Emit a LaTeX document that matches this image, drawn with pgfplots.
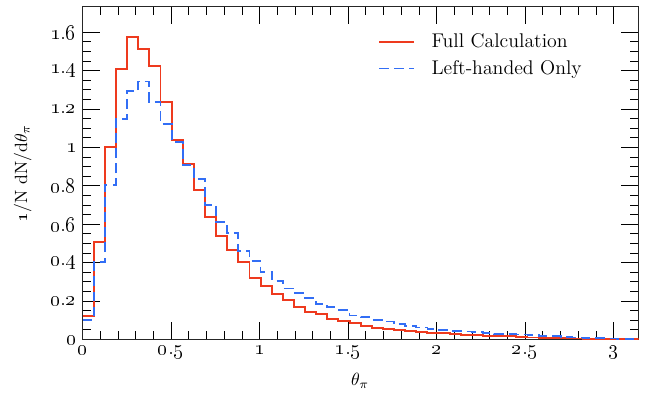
\documentclass[border=0pt]{standalone}
\usepackage{pgfplots}
\pgfplotsset{compat=1.18}
\definecolor{fullred}{RGB}{238,58,30}
\definecolor{lhblue}{RGB}{50,110,245}
\newcommand{\osn}[1]{\oldstylenums{#1}}
\pgfplotstableread{
x y
0.0000 0.120
0.0628 0.506
0.1257 1.000
0.1885 1.410
0.2513 1.574
0.3142 1.515
0.3770 1.424
0.4398 1.238
0.5027 1.039
0.5655 0.912
0.6283 0.779
0.6912 0.640
0.7540 0.537
0.8168 0.466
0.8796 0.405
0.9425 0.322
1.0053 0.279
1.0681 0.237
1.1310 0.206
1.1938 0.171
1.2566 0.145
1.3195 0.131
1.3823 0.105
1.4451 0.096
1.5080 0.084
1.5708 0.072
1.6336 0.062
1.6965 0.055
1.7593 0.049
1.8221 0.044
1.8850 0.039
1.9478 0.035
2.0106 0.032
2.0735 0.029
2.1363 0.024
2.1991 0.021
2.2619 0.019
2.3248 0.018
2.3876 0.016
2.4504 0.012
2.5133 0.010
2.5761 0.009
2.6389 0.007
2.7018 0.006
2.7646 0.005
2.8274 0.004
2.8903 0.003
2.9531 0.002
3.0159 0.002
3.0788 0.001
3.1416 0.001
}\fullcalc
\pgfplotstableread{
x y
0.0000 0.100
0.0628 0.402
0.1257 0.805
0.1885 1.147
0.2513 1.296
0.3142 1.343
0.3770 1.238
0.4398 1.122
0.5027 1.030
0.5655 0.907
0.6283 0.836
0.6912 0.702
0.7540 0.612
0.8168 0.556
0.8796 0.461
0.9425 0.410
1.0053 0.352
1.0681 0.305
1.1310 0.265
1.1938 0.240
1.2566 0.214
1.3195 0.185
1.3823 0.168
1.4451 0.155
1.5080 0.125
1.5708 0.115
1.6336 0.102
1.6965 0.093
1.7593 0.080
1.8221 0.072
1.8850 0.062
1.9478 0.056
2.0106 0.049
2.0735 0.044
2.1363 0.041
2.1991 0.040
2.2619 0.034
2.3248 0.028
2.3876 0.027
2.4504 0.026
2.5133 0.022
2.5761 0.018
2.6389 0.016
2.7018 0.012
2.7646 0.010
2.8274 0.008
2.8903 0.006
2.9531 0.005
3.0159 0.003
3.0788 0.002
3.1416 0.002
}\lefthanded
\begin{document}
\begin{tikzpicture}
\begin{axis}[
  scale only axis, width=314.2pt, height=188pt,
  xmin=0, xmax=3.14159, ymin=0, ymax=1.733,
  xtick={0,0.5,1,1.5,2,2.5,3},
  xticklabels={\osn{0},\osn{0}.\osn{5},\osn{1},\osn{1}.\osn{5},\osn{2},\osn{2}.\osn{5},\osn{3}},
  ytick={0,0.2,0.4,0.6,0.8,1,1.2,1.4,1.6},
  yticklabels={\osn{0},\osn{0}.\osn{2},\osn{0}.\osn{4},\osn{0}.\osn{6},\osn{0}.\osn{8},\osn{1},\osn{1}.\osn{2},\osn{1}.\osn{4},\osn{1}.\osn{6}},
  minor x tick num=4, minor y tick num=3,
  tick align=inside, major tick length=10pt, minor tick length=4.8pt,
  every tick/.style={black, line width=0.5pt},
  axis line style={black!85, line width=0.6pt},
  tick label style={font=\fontsize{11.5}{13.5}\selectfont},
  label style={font=\fontsize{11.5}{13.5}\selectfont},
  xlabel={$\theta_\pi$},
  ylabel={\osn{1}/N dN/d$\theta_\pi$},
  every axis x label/.style={at={(axis description cs:0.499,-0.1245)}, anchor=center},
  every axis y label/.style={at={(axis description cs:-0.108,0.5)}, rotate=90, anchor=center},
  legend style={at={(axis description cs:0.531,0.93)}, anchor=north west, draw=none, fill=none,
    font=\fontsize{11.2}{13.2}\selectfont, row sep=1.5pt, inner sep=0pt, cells={anchor=west}},
  legend image code/.code={\draw[#1] (0pt,0pt) -- (19.5pt,0pt); \path (27pt,0pt);},
]
\addplot[const plot, color=fullred, line width=1.1pt] table[x=x,y=y] {\fullcalc};
\addlegendentry{Full Calculation}
\addplot[const plot, color=lhblue, line width=1.0pt, dash pattern=on 5.5pt off 3pt] table[x=x,y=y] {\lefthanded};
\addlegendentry{Left-handed Only}
\end{axis}
\path (current axis.south west) ++(-46.7pt,-31.9pt) coordinate (bbsw);
\path (current axis.north east) ++(7.5pt,3.8pt) coordinate (bbne);
\end{tikzpicture}
\end{document}
